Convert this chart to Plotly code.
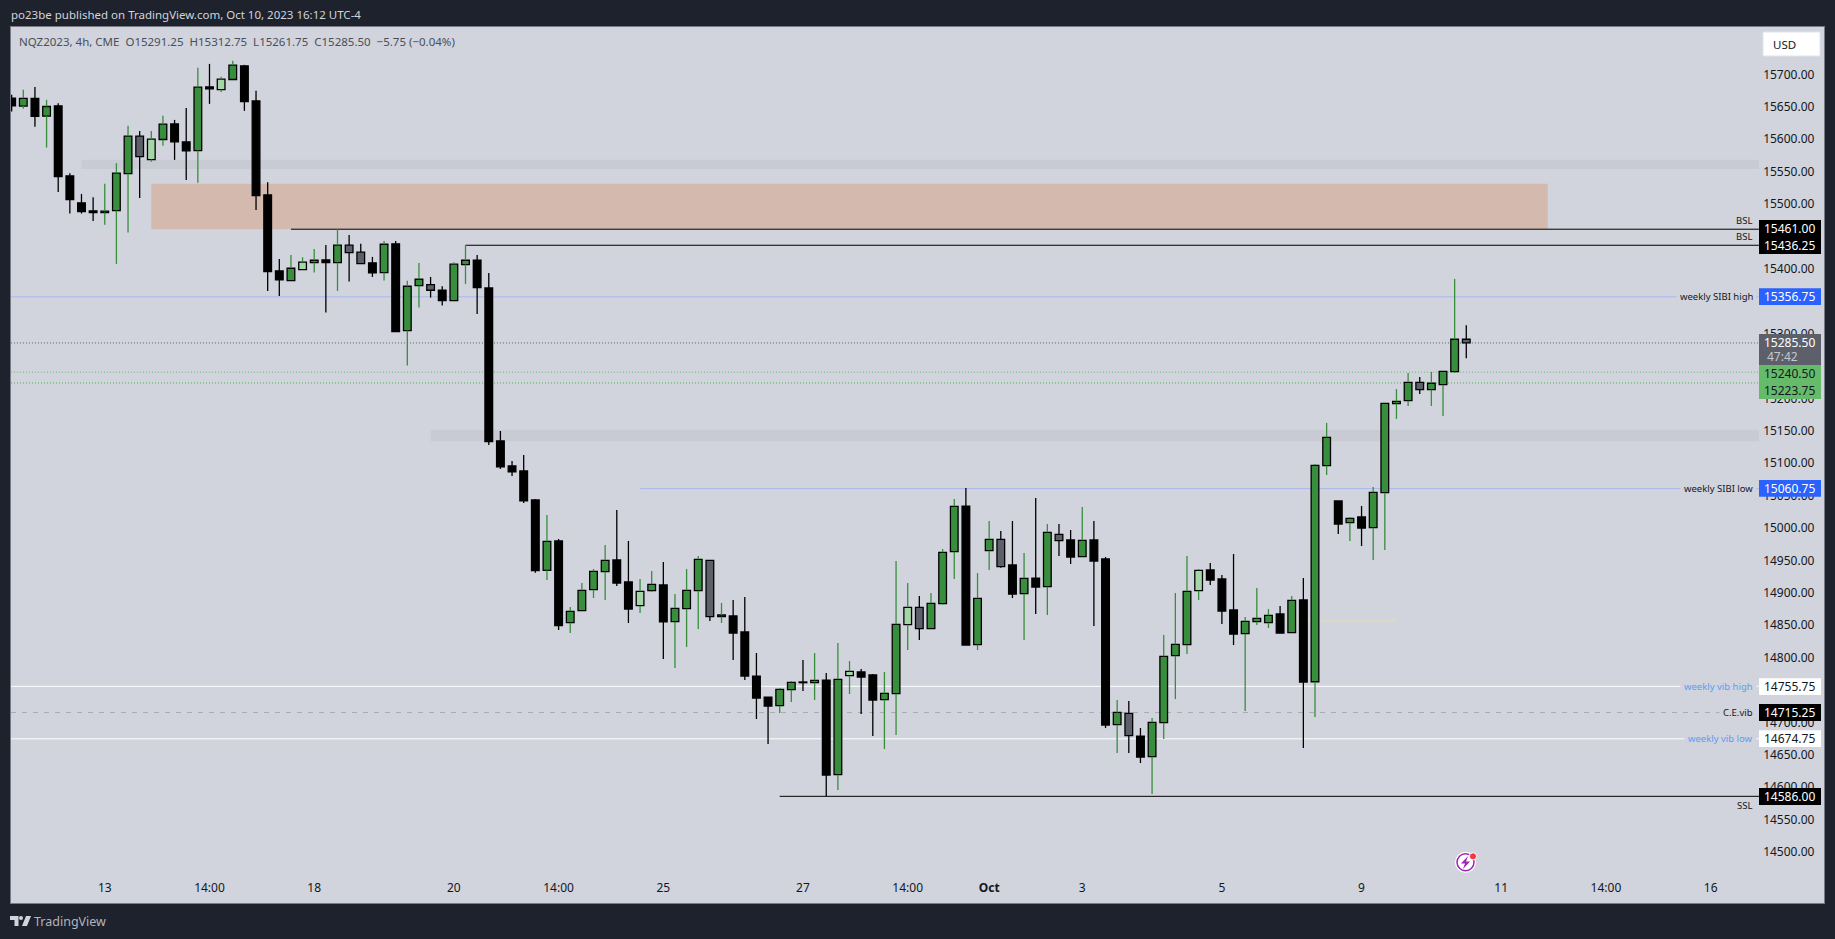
import plotly.graph_objects as go

kinds = ["K","G","K","G","K","K","K","K","G","G","G","S","L","G","K","K","G","K","L","G",
         "K","K","K","K","G","L","G","K","G","S","S","K","G","K","G","G","S","K","G","G",
         "K","K","K","K","K","K","G","K","G","G","G","G","K","K","L","G","K","G","G","G",
         "S","G","K","K","K","K","G","G","K","G","K","G","L","K","K","G","G","L","S","G",
         "G","G","K","G","G","S","K","G","K","G","S","K","G","K","K","G","S","K","G","G",
         "G","G","L","K","K","K","G","G","G","K","G","K","G","G","K","G","K","G","G","G",
         "G","S","G","G","G","S"]

highs = [15668.3,15676.0,15680.6,15660.6,15655.4,15547.4,15515.5,15510.4,15531.0,15562.8,
         15620.5,15612.7,15612.7,15635.9,15629.7,15648.2,15710.0,15716.1,15696.1,15720.8,
         15714.6,15674.5,15533.5,15415.2,15421.4,15417.8,15430.6,15436.8,15461.0,15452.2,
         15438.4,15418.3,15443.0,15443.0,15381.3,15409.0,15387.4,15373.0,15410.0,15436.3,
         15421.4,15393.6,15149.7,15103.4,15112.7,15044.8,15020.1,14983.0,14878.1,14915.1,
         14936.8,14973.8,15027.8,14980.0,14921.3,14933.7,14947.6,14898.2,14936.8,14956.8,
         14950.1,14884.3,14888.9,14893.5,14807.1,14739.2,14753.1,14764.0,14796.3,14807.1,
         14776.3,14822.6,14794.8,14782.4,14774.7,14777.8,14949.1,14915.1,14895.1,14899.7,
         14967.6,15044.7,15061.7,14930.5,15010.8,14995.4,15010.8,14961.4,15046.3,15006.2,
         15006.2,14996.9,15032.4,15010.8,14955.2,14734.6,14733.0,14691.4,14706.8,14834.9,
         14899.7,14956.8,14936.7,14946.0,14927.5,14959.9,14862.6,14907.4,14875.0,14879.6,
         14895.0,14922.8,15098.8,15162.1,15041.7,15017.0,15034.0,15063.3,15192.4,15214.5,
         15239.2,15233.0,15240.8,15241.8,15384.3,15312.75]
lows = [15642.6,15647.0,15619.0,15587.0,15518.6,15485.2,15485.2,15473.8,15467.7,15407.5,
        15455.8,15509.3,15564.9,15589.6,15568.0,15537.1,15532.5,15654.4,15672.9,15692.0,
        15643.6,15490.8,15365.8,15358.1,15381.8,15398.7,15394.1,15332.4,15365.8,15380.2,
        15408.0,15387.4,15381.8,15303.0,15250.6,15340.1,15355.5,15343.2,15350.9,15376.6,
        15330.3,15128.1,15091.1,15080.3,15038.6,14931.1,14919.8,14842.6,14838.0,14872.4,
        14892.0,14888.9,14910.5,14853.4,14868.9,14901.3,14797.9,14784.0,14816.4,14844.2,
        14856.5,14853.4,14796.3,14765.4,14705.3,14666.7,14714.5,14731.5,14748.5,14734.6,
        14586.0,14595.7,14743.8,14713.0,14679.0,14659.0,14680.6,14811.8,14827.2,14844.7,
        14881.7,14921.3,14819.4,14811.7,14935.2,14938.8,14892.0,14827.2,14867.3,14865.7,
        14956.8,14944.4,14955.8,14848.8,14691.3,14652.8,14652.8,14637.3,14589.5,14674.4,
        14736.1,14805.5,14888.9,14912.0,14851.8,14819.4,14717.6,14850.3,14845.7,14837.9,
        14838.5,14660.5,14708.3,15081.8,14990.8,14980.0,14972.2,14950.6,14966.1,15168.2,
        15188.3,15206.8,15188.3,15172.9,15239.2,15261.75]
body_tops = [15663.1,15663.0,15663.0,15650.3,15651.3,15543.3,15501.6,15489.3,15488.8,15547.4,
             15604.5,15604.5,15599.9,15623.0,15623.5,15595.8,15680.1,15680.6,15692.5,15714.1,
             15713.0,15659.0,15514.0,15396.7,15400.8,15410.1,15413.1,15413.7,15436.3,15436.3,
             15425.5,15409.0,15437.8,15438.4,15373.0,15383.8,15375.6,15366.8,15407.0,15413.1,
             15413.1,15370.4,15134.3,15095.7,15088.0,15043.2,14979.4,14980.0,14871.4,14903.8,
             14933.1,14950.1,14950.6,14916.7,14902.3,14913.1,14912.1,14876.0,14903.8,14951.7,
             14950.1,14865.8,14864.2,14839.5,14771.6,14739.2,14751.1,14761.9,14762.4,14764.9,
             14765.4,14766.5,14778.8,14777.8,14773.2,14744.9,14851.4,14877.6,14877.6,14883.8,
             14962.4,15033.4,15033.9,14891.5,14982.5,14982.5,14942.9,14922.3,14922.8,14993.3,
             14990.2,14981.5,14981.0,14981.5,14952.2,14715.5,14714.0,14679.0,14700.1,14802.0,
             14820.5,14902.3,14934.7,14935.2,14921.3,14873.5,14856.0,14860.6,14865.2,14867.3,
             14888.4,14888.9,15096.7,15139.9,15041.7,15014.9,15017.0,15055.0,15192.4,15195.5,
             15224.8,15224.8,15223.3,15241.8,15291.2,15291.25]
body_bottoms = [15651.3,15651.0,15635.0,15635.4,15542.3,15506.8,15488.2,15486.7,15486.7,15489.8,
                15546.9,15573.1,15568.5,15599.4,15595.8,15581.9,15582.4,15677.5,15676.5,15692.0,
                15658.0,15512.9,15395.7,15382.8,15381.8,15398.7,15409.5,15409.5,15409.5,15425.0,
                15408.0,15393.6,15394.1,15303.0,15304.6,15374.0,15366.8,15350.9,15350.9,15406.5,
                15370.9,15133.3,15094.2,15086.5,15041.7,14934.2,14934.7,14849.3,14853.9,14872.4,
                14904.9,14932.6,14915.1,14875.0,14880.2,14903.3,14855.0,14855.5,14875.5,14903.3,
                14863.2,14863.2,14838.0,14771.6,14737.7,14725.3,14725.8,14750.5,14761.3,14761.3,
                14618.9,14619.4,14772.1,14770.1,14734.6,14735.1,14744.4,14850.9,14844.7,14844.7,
                14883.2,14963.5,14819.4,14820.0,14965.0,14940.3,14898.1,14898.7,14909.0,14909.5,
                14980.4,14955.2,14955.8,14949.1,14696.0,14696.5,14679.5,14646.6,14647.1,14699.6,
                14803.0,14820.0,14903.3,14919.7,14871.9,14836.4,14836.9,14855.4,14853.9,14837.9,
                14838.5,14762.3,14762.8,15096.2,15006.2,15008.3,15000.0,15000.5,15054.5,15191.9,
                15196.5,15213.5,15213.5,15221.2,15241.3,15285.5]

tick_pos = [8, 17, 26, 38, 47, 56, 68, 77, 84, 92, 104, 116, 128, 137, 146]
tick_text = ["13", "14:00", "18", "20", "14:00", "25", "27", "14:00", "<b>Oct</b>", "3", "5", "9", "11", "14:00", "16"]
# every 50, without the labels the reference hides completely behind its price tags
price_ticks = [14500, 14550, 14600, 14650, 14700, 14800, 14850, 14900, 14950, 15000,
               15050, 15100, 15150, 15200, 15300, 15400, 15500, 15550, 15600, 15650, 15700]

# zones: (x start, x end, price top, price bottom, colour)
SCALE_X = 150.15
zones = [
    (6, SCALE_X, 15568, 15554, "#c8cbd4"),
    (12, 132, 15531, 15461, "#d3b9ae"),
    (36, SCALE_X, 15151.3, 15134, "#c8cbd4"),
    (108.4, 119, 14859, 14855, "#d9d9c4"),
]
# levels: (price, x start, colour, dash)
levels = [
    (15461.00, 24, "#000000", "solid"),
    (15436.25, 39, "#000000", "solid"),
    (15356.75, 0, "#a8b8ec", "solid"),
    (15285.50, 0, "#5d606b", "1px,2px"),
    (15240.50, 0, "#66bb6a", "1px,2px"),
    (15223.75, 0, "#4caf50", "1px,2px"),
    (15060.75, 54, "#a8b8ec", "solid"),
    (14755.75, 0, "#ffffff", "solid"),
    (14715.25, 0, "#a9abb2", "5px,6px"),
    (14674.75, 0, "#ffffff", "solid"),
    (14586.00, 66, "#000000", "solid"),
]

# side labels: (text, centre y, colour, masks the line)
side_labels = [
    ("BSL", 220.7, "#131722", False),
    ("BSL", 236.7, "#131722", False),
    ("weekly SIBI high", 296.6, "#131722", True),
    ("weekly SIBI low", 488.6, "#131722", True),
    ("weekly vib high", 686.2, "#5b9cf6", True),
    ("C.E.vib", 712.8, "#131722", True),
    ("weekly vib low", 738.8, "#5b9cf6", True),
    ("SSL", 805, "#131722", False),
]
# tag boxes: (top, bottom, fill)
tag_boxes = [
    (220, 254, "#000000"),
    (288.3, 305, "#2962ff"),
    (334, 365, "#5d606b"),
    (365, 399, "#66bb6a"),
    (480, 496.7, "#2962ff"),
    (678.3, 695, "#ffffff"),
    (704, 721, "#000000"),
    (730.3, 747, "#ffffff"),
    (788, 805, "#000000"),
]
# tag texts: (text, centre y, colour)
tag_texts = [
    ("15461.00", 228.7, "#ffffff"),
    ("15436.25", 245.7, "#ffffff"),
    ("15356.75", 296.6, "#ffffff"),
    ("15285.50", 342.3, "#ffffff"),
    ("15240.50", 373.3, "#131722"),
    ("15223.75", 390.7, "#131722"),
    ("15060.75", 488.6, "#ffffff"),
    ("14755.75", 686.7, "#131722"),
    ("14715.25", 712.8, "#ffffff"),
    ("14674.75", 738.8, "#131722"),
    ("14586.00", 796.5, "#ffffff"),
]

W, H = 1835, 939
L, R, T, B = 11, 1824, 27, 903
DARK, PANE = "#1e222d", "#d1d4dc"
FONT = "Noto Sans"
px = lambda x: (x - L) / (R - L)
py = lambda y: (B - y) / (B - T)

FILL = {"G": "#388e3c", "K": "#000000", "L": "#a5d6a7", "S": "#5d606b"}
WICK = {"G": "#388e3c", "K": "#000000", "L": "#388e3c", "S": "#000000"}

fig = go.Figure()
idx = list(range(len(kinds)))

for kind in "GKLS":
    sel = [i for i in idx if kinds[i] == kind]
    fig.add_trace(go.Bar(
        x=sel,
        base=[body_bottoms[i] for i in sel],
        y=[body_tops[i] - body_bottoms[i] for i in sel],
        width=0.66,
        marker=dict(color=FILL[kind], line=dict(color="#000000", width=1.3)),
        hoverinfo="skip",
        showlegend=False,
    ))

for colour in ("#388e3c", "#000000"):
    xs, ys = [], []
    for i in idx:
        if WICK[kinds[i]] != colour:
            continue
        xs += [i, i, None, i, i, None]
        ys += [highs[i], body_tops[i], None, body_bottoms[i], lows[i], None]
    fig.add_trace(go.Scatter(x=xs, y=ys, mode="lines", line=dict(color=colour, width=1.3),
                             hoverinfo="skip", showlegend=False))

shapes = []
for x0, x1, top, bot, col in zones:
    shapes.append(dict(type="rect", xref="x", yref="y", x0=x0, x1=x1, y0=bot, y1=top,
                       fillcolor=col, line_width=0, layer="below"))
for price, x0, col, dash in levels:
    shapes.append(dict(type="line", xref="x", yref="y", x0=x0 if x0 else -0.06, x1=SCALE_X,
                       y0=price, y1=price, line=dict(color=col, width=1, dash=dash), layer="below"))
for top, bot, col in tag_boxes:
    shapes.append(dict(type="rect", xref="paper", yref="paper", x0=px(1759), x1=px(1821),
                       y0=py(bot), y1=py(top), fillcolor=col, line_width=0, layer="above"))

def poly(points):
    return "M " + " L ".join(f"{px(a)},{py(b)}" for a, b in points) + " Z"

def circle(cx, cy, r, **kw):
    return dict(type="circle", xref="paper", yref="paper", x0=px(cx - r), x1=px(cx + r),
                y0=py(cy + r), y1=py(cy - r), layer="above", **kw)

# USD box
shapes.append(dict(type="rect", xref="paper", yref="paper", x0=px(1763), x1=px(1820),
                   y0=py(56), y1=py(32), fillcolor="#ffffff", line=dict(color="#e0e3eb", width=1),
                   layer="above"))
# bolt badge
shapes.append(circle(1465.5, 862.3, 10.5, fillcolor="#ffffff", line_width=0))
shapes.append(circle(1465.5, 862.3, 8.5, fillcolor="rgba(0,0,0,0)", line=dict(color="#9c27b0", width=1.5)))
shapes.append(dict(type="path", xref="paper", yref="paper", layer="above", fillcolor="#9c27b0", line_width=0,
                   path=poly([(1468, 856), (1461, 863.5), (1465, 863.5), (1463, 869), (1470, 861.5), (1466, 861.5)])))
shapes.append(circle(1473, 856.3, 3.6, fillcolor="#f23645", line=dict(color="#ffffff", width=1)))
# TradingView logo
shapes.append(dict(type="path", xref="paper", yref="paper", layer="above", fillcolor="#d1d4dc", line_width=0,
                   path=poly([(10, 916), (18.5, 916), (18.5, 926), (14.5, 926), (14.5, 920), (10, 920)])))
shapes.append(circle(21, 918, 2, fillcolor="#d1d4dc", line_width=0))
shapes.append(dict(type="path", xref="paper", yref="paper", layer="above", fillcolor="#d1d4dc", line_width=0,
                   path=poly([(26, 916), (31, 916), (27, 926), (22, 926)])))

annotations = []
def note(text, x, y, color, size, xanchor="left", **kw):
    annotations.append(dict(text=text, xref="paper", yref="paper", x=px(x), y=py(y),
                            xanchor=xanchor, yanchor="middle", showarrow=False,
                            font=dict(family=FONT, size=size, color=color), **kw))

note("po23be published on TradingView.com, Oct 10, 2023 16:12 UTC-4", 8.5, 15, "#d1d4dc", 11.5)
note("NQZ2023, 4h, CME\u00a0\u00a0O15291.25\u00a0\u00a0H15312.75\u00a0\u00a0L15261.75\u00a0\u00a0C15285.50\u00a0\u00a0\u22125.75 (\u22120.04%)",
     16.5, 41.5, "#4a4e59", 11.5)
note("USD", 1771, 44.5, "#131722", 11.5)
note("TradingView", 31.5, 921.5, "#b2b5be", 12.5)
for text, y, col, mask in side_labels:
    kw = dict(bgcolor=PANE, borderpad=3) if mask else dict(borderpad=0)
    note(text, 1757 if mask else 1753, y, col, 9.5, xanchor="right", **kw)
for text, y, col in tag_texts:
    note(text, 1816.5, y, col, 12, xanchor="right")
note("47:42", 1765, 356.7, "#c6c8cf", 12)

tick_font = dict(family=FONT, size=12, color="#131722")
fig.update_layout(
    width=W, height=H, autosize=False,
    margin=dict(l=L, r=W - R, t=T, b=H - B, pad=0),
    paper_bgcolor=DARK, plot_bgcolor=PANE,
    barmode="overlay", showlegend=False, dragmode=False,
    shapes=shapes, annotations=annotations,
    xaxis=dict(range=[-0.057, 155.74], tickmode="array", tickvals=tick_pos, ticktext=tick_text,
               ticklabelposition="inside", ticks="", showgrid=False, zeroline=False,
               tickfont=tick_font, ticklabelstandoff=8,
               showline=True, linecolor="#787b86", linewidth=1, mirror=True, automargin=False),
    yaxis=dict(range=[14421.4, 15773], side="right", tickmode="array", tickvals=price_ticks,
               ticktext=[f"{p:.2f}" for p in price_ticks], ticklabelposition="inside", ticks="",
               showgrid=False, zeroline=False, tickfont=tick_font, ticklabelstandoff=9,
               showline=True, linecolor="#787b86", linewidth=1, mirror=True, automargin=False),
)

fig.write_html("out.html", config={"displayModeBar": False},
               post_script="document.body.style.margin='0';document.documentElement.style.background='#1e222d';")
